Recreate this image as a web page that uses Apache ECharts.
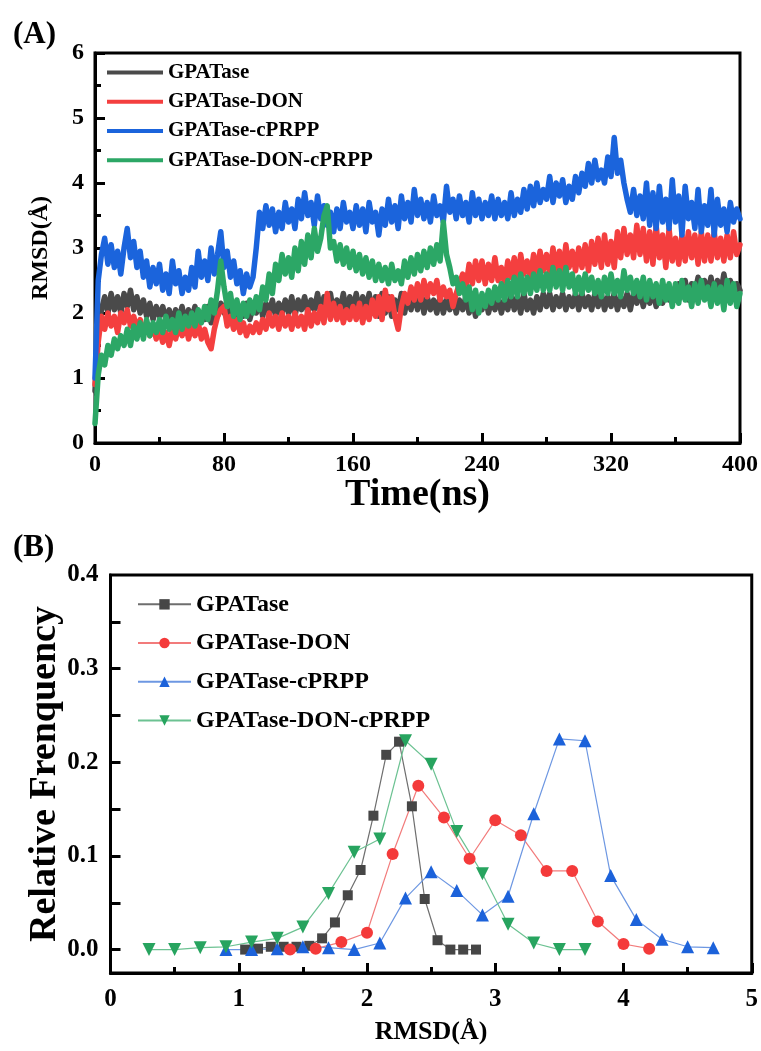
<!DOCTYPE html>
<html>
<head>
<meta charset="utf-8">
<title>RMSD</title>
<script src="https://cdn.jsdelivr.net/npm/echarts@6/dist/echarts.min.js"></script>
<style>
  html, body { margin: 0; padding: 0; background: #fff; }
  #chart { width: 761px; height: 1051px; }
</style>
</head>
<body>
<div id="chart"></div>
<script>
// ---- Panel A: RMSD trajectories, one sample every 2 ns from 0 to 400 ns ----
const seriesNames = ['GPATase', 'GPATase-DON', 'GPATase-cPRPP', 'GPATase-DON-cPRPP'];
const timeStepNs = 2;

const rmsdGPATase = [
  0.8, 1.75, 2.05, 2.25, 2.0, 2.3, 2.05, 2.25, 2.0, 2.3,
  2.1, 2.35, 2.05, 2.25, 2.0, 2.2, 1.95, 2.15, 1.9, 2.1,
  1.95, 2.1, 1.9, 2.05, 1.85, 2.05, 1.9, 2.1, 1.85, 2.05,
  1.9, 2.1, 1.85, 2.0, 1.9, 2.1, 1.85, 2.05, 1.95, 2.15,
  2.0, 2.2, 1.95, 2.15, 1.9, 2.1, 1.95, 2.15, 1.9, 2.1,
  2.0, 2.2, 1.95, 2.15, 2.0, 2.2, 1.95, 2.15, 2.0, 2.2,
  2.0, 2.25, 1.95, 2.2, 2.05, 2.25, 2.0, 2.2, 2.05, 2.3,
  2.0, 2.25, 2.05, 2.3, 2.0, 2.2, 2.05, 2.3, 2.0, 2.25,
  2.05, 2.3, 2.0, 2.25, 2.05, 2.3, 2.0, 2.25, 1.95, 2.3,
  2.0, 2.25, 1.95, 2.2, 2.05, 2.3, 2.0, 2.25, 2.05, 2.3,
  2.05, 2.3, 2.0, 2.25, 2.05, 2.2, 2.0, 2.25, 2.0, 2.2,
  2.05, 2.25, 2.0, 2.2, 2.05, 2.25, 2.0, 2.2, 1.95, 2.15,
  2.05, 2.25, 2.0, 2.2, 2.05, 2.25, 2.0, 2.2, 2.05, 2.3,
  2.05, 2.25, 2.0, 2.3, 2.05, 2.2, 2.0, 2.25, 2.05, 2.3,
  2.1, 2.3, 2.05, 2.25, 2.1, 2.3, 2.05, 2.25, 2.1, 2.3,
  2.05, 2.3, 2.1, 2.25, 2.05, 2.3, 2.1, 2.3, 2.05, 2.25,
  2.1, 2.3, 2.05, 2.25, 2.1, 2.3, 2.05, 2.3, 2.15, 2.35,
  2.1, 2.3, 2.15, 2.35, 2.1, 2.3, 2.15, 2.4, 2.2, 2.35,
  2.2, 2.45, 2.25, 2.5, 2.2, 2.45, 2.3, 2.55, 2.25, 2.5,
  2.3, 2.55, 2.25, 2.5, 2.3, 2.6, 2.3, 2.5, 2.25, 2.45,
  2.35
];

const rmsdDON = [
  0.9, 1.55, 1.95, 1.75, 2.0, 1.8, 1.95, 1.7, 2.0, 1.85,
  2.05, 1.8, 1.95, 1.75, 1.9, 1.7, 1.85, 1.65, 1.8, 1.6,
  1.75, 1.55, 1.7, 1.5, 1.75, 1.6, 1.8, 1.65, 1.85, 1.6,
  1.8, 1.65, 1.85, 1.6, 1.75, 1.55, 1.45, 1.75, 1.95, 2.05,
  2.1, 1.8, 1.95, 1.75, 1.9, 1.7, 1.85, 1.65, 1.8, 1.7,
  1.85, 1.7, 1.9, 1.75, 2.0, 1.8, 1.95, 1.75, 2.0, 1.8,
  1.95, 1.75, 2.0, 1.8, 1.95, 1.75, 2.05, 1.8, 2.0, 1.85,
  2.1, 1.85, 2.3, 1.9, 2.15, 1.9, 2.1, 1.85, 2.05, 1.9,
  2.1, 1.9, 2.15, 1.85, 2.1, 1.9, 2.2, 1.95, 2.25, 1.9,
  2.35, 2.05, 2.25, 1.95, 1.75, 2.1, 2.3, 2.15, 2.4, 2.2,
  2.45, 2.2, 2.5, 2.25, 2.45, 2.3, 2.5, 2.2, 2.4, 2.25,
  2.35, 2.1, 2.3, 2.45, 2.6, 2.4, 2.75, 2.45, 2.8, 2.5,
  2.8, 2.45, 2.75, 2.5, 2.85, 2.5, 2.7, 2.45, 2.8, 2.55,
  2.85, 2.5, 2.9, 2.6, 2.8, 2.55, 2.9, 2.6, 2.95, 2.65,
  2.9, 2.6, 3.0, 2.65, 2.95, 2.6, 3.05, 2.7, 2.95, 2.65,
  3.0, 2.7, 3.05, 2.65, 3.1, 2.75, 3.15, 2.7, 3.2, 2.75,
  3.1, 2.7, 3.25, 2.85, 3.3, 2.9, 3.2, 2.85, 3.35, 2.9,
  3.3, 2.8, 3.25, 2.75, 3.35, 2.85, 3.2, 2.7, 3.3, 2.8,
  3.15, 2.75, 3.2, 2.8, 3.25, 2.85, 3.2, 2.75, 3.25, 2.8,
  3.2, 2.8, 3.25, 2.85, 3.15, 2.8, 3.2, 2.85, 3.25, 2.9,
  3.05
];

const rmsdCPRPP = [
  1.0, 2.5, 2.9, 3.15, 2.75, 3.05, 2.7, 2.95, 2.6, 3.0,
  3.3, 2.85, 3.1, 2.7, 2.95, 2.55, 2.8, 2.4, 2.7, 2.45,
  2.75, 2.35, 2.6, 2.3, 2.8, 2.45, 2.65, 2.3, 2.55, 2.35,
  2.7, 2.4, 2.95, 2.55, 2.8, 2.5, 3.0, 2.6, 2.9, 3.25,
  2.7, 2.95, 2.55, 2.8, 2.45, 2.65, 2.3, 2.6, 2.4, 2.55,
  3.0, 3.55, 3.3, 3.65, 3.35, 3.6, 3.25, 3.55, 3.3, 3.7,
  3.4, 3.6, 3.3, 3.75, 3.45, 3.85, 3.5, 3.7, 3.35, 3.8,
  3.45, 3.65, 3.35, 3.55, 3.25, 3.6, 3.3, 3.7, 3.4, 3.55,
  3.3, 3.65, 3.35, 3.6, 3.25, 3.7, 3.4, 3.55, 3.2, 3.6,
  3.35, 3.75, 3.4, 3.65, 3.3, 3.8, 3.45, 3.7, 3.4, 3.9,
  3.5, 3.75, 3.45, 3.7, 3.4, 3.8, 3.5, 3.65, 3.4, 3.95,
  3.55, 3.75, 3.45, 3.8, 3.5, 3.7, 3.4, 3.85, 3.5, 3.75,
  3.45, 3.7, 3.5, 3.8, 3.45, 3.75, 3.5, 3.7, 3.45, 3.85,
  3.5, 3.75, 3.55, 3.9, 3.6, 3.95, 3.65, 4.0, 3.7, 3.9,
  3.75, 4.1, 3.7, 4.0, 3.8, 4.05, 3.7, 3.95, 3.75, 4.1,
  3.85, 4.15, 3.95, 4.3, 4.0, 4.35, 4.05, 4.2, 4.0, 4.4,
  4.1, 4.7, 4.15, 4.35, 4.0, 3.75, 3.55, 3.9, 3.5, 3.8,
  3.45, 4.0, 3.35, 3.85, 3.3, 3.95, 3.4, 3.75, 3.3, 4.05,
  3.4, 3.8, 3.2, 3.95, 3.45, 3.7, 3.3, 3.9, 3.25, 3.65,
  3.35, 3.9, 3.2, 3.75, 3.35, 3.6, 3.25, 3.7, 3.4, 3.6,
  3.45
];

const rmsdDONcPRPP = [
  0.3, 1.05, 1.35, 1.2, 1.5, 1.35, 1.6, 1.45, 1.65, 1.5,
  1.75, 1.5, 1.8, 1.6, 1.85, 1.6, 1.9, 1.65, 1.85, 1.7,
  1.9, 1.7, 1.95, 1.75, 1.9, 1.7, 2.0, 1.75, 1.95, 1.8,
  2.0, 1.8, 2.05, 1.85, 2.1, 1.9, 2.2, 2.0, 2.35, 2.8,
  2.4, 2.1, 2.3, 1.95, 2.2, 1.9, 2.15, 1.95, 2.2, 2.0,
  2.25, 2.05, 2.4, 2.2, 2.6, 2.3, 2.75, 2.5, 2.9, 2.6,
  2.85, 2.55, 3.0, 2.65, 3.1, 2.75, 3.2, 2.85, 3.3, 2.95,
  3.15, 3.5, 3.65, 3.0, 3.1, 2.8, 3.05, 2.75, 3.0, 2.7,
  2.95, 2.65, 2.9, 2.6, 2.85, 2.55, 2.8, 2.5, 2.75, 2.5,
  2.7, 2.45, 2.75, 2.5, 2.65, 2.45, 2.8, 2.55, 2.85, 2.6,
  2.9, 2.65, 2.95, 2.7, 3.0, 2.75, 3.05, 2.8, 3.4, 2.9,
  2.7, 2.45, 2.55, 2.3, 2.45, 2.2, 2.4, 2.05, 2.35, 2.0,
  2.3, 2.1, 2.35, 2.15, 2.4, 2.2, 2.45, 2.2, 2.5, 2.25,
  2.55, 2.25, 2.6, 2.3, 2.55, 2.3, 2.6, 2.35, 2.65, 2.35,
  2.6, 2.35, 2.7, 2.4, 2.65, 2.35, 2.7, 2.4, 2.6, 2.3,
  2.55, 2.3, 2.6, 2.35, 2.55, 2.3, 2.5, 2.25, 2.55, 2.3,
  2.6, 2.3, 2.5, 2.25, 2.65, 2.35, 2.55, 2.3, 2.5, 2.25,
  2.55, 2.2, 2.5, 2.25, 2.45, 2.15, 2.5, 2.2, 2.45, 2.1,
  2.45, 2.15, 2.5, 2.2, 2.4, 2.1, 2.45, 2.15, 2.5, 2.2,
  2.4, 2.1, 2.45, 2.15, 2.4, 2.05, 2.5, 2.15, 2.45, 2.1,
  2.3
];

// ---- Panel B: RMSD distributions (bin centre in Å, relative frequency) ----
const binsGPATase = [1.05, 1.15, 1.25, 1.35, 1.45, 1.55, 1.65, 1.75, 1.85, 1.95,
                     2.05, 2.15, 2.25, 2.35, 2.45, 2.55, 2.65, 2.75, 2.85];
const freqGPATase = [0.000, 0.001, 0.003, 0.003, 0.003, 0.004, 0.012, 0.029, 0.058, 0.085,
                     0.143, 0.208, 0.222, 0.153, 0.054, 0.010, 0.000, 0.000, 0.000];

const binsDON = [1.4, 1.6, 1.8, 2.0, 2.2, 2.4, 2.6, 2.8, 3.0, 3.2, 3.4, 3.6, 3.8, 4.0, 4.2];
const freqDON = [0.000, 0.001, 0.008, 0.018, 0.102, 0.175, 0.141, 0.097, 0.138, 0.122,
                 0.084, 0.084, 0.030, 0.006, 0.001];

const binsCPRPP = [0.9, 1.1, 1.3, 1.5, 1.7, 1.9, 2.1, 2.3, 2.5, 2.7,
                   2.9, 3.1, 3.3, 3.5, 3.7, 3.9, 4.1, 4.3, 4.5, 4.7];
const freqCPRPP = [0.000, 0.000, 0.001, 0.003, 0.002, 0.000, 0.007, 0.055, 0.083, 0.063,
                   0.037, 0.057, 0.145, 0.225, 0.223, 0.079, 0.032, 0.011, 0.003, 0.002];

const binsDONcPRPP = [0.3, 0.5, 0.7, 0.9, 1.1, 1.3, 1.5, 1.7, 1.9, 2.1,
                      2.3, 2.5, 2.7, 2.9, 3.1, 3.3, 3.5, 3.7];
const freqDONcPRPP = [0.000, 0.000, 0.002, 0.003, 0.008, 0.012, 0.024, 0.060, 0.104, 0.118,
                      0.223, 0.198, 0.126, 0.081, 0.027, 0.007, 0.000, 0.000];

// Axis tick values
const timeTicks = [0, 80, 160, 240, 320, 400];
const rmsdTicksA = [0, 1, 2, 3, 4, 5, 6];
const rmsdTicksB = [0, 1, 2, 3, 4, 5];
const freqTicks = [0.0, 0.1, 0.2, 0.3, 0.4];

// ---- styling ----
const FONT = "'Liberation Serif', 'Times New Roman', serif";
const lineColors = ['#4a4a4a', '#f43f3f', '#1b64dc', '#2ca766'];
const markerColors = ['#464646', '#f43a3a', '#1c62da', '#27a45f'];
const thinLineColors = ['#6e6e6e', '#f27b7b', '#6d97e2', '#6cc292'];
const markerShapes = ['rect', 'circle', 'triangle', 'triangle'];
const markerSizes = [10, 12, 13, 13];
const markerRotate = [0, 0, 0, 180];
const NBSP = '\u00a0'; // keeps panel B legend entries separate from panel A

function timePairs(values) {
  return values.map((v, i) => [i * timeStepNs, v]);
}
function binPairs(bins, freqs) {
  return bins.map((b, i) => [b, freqs[i]]);
}

function axisCommon(extra) {
  return Object.assign({
    type: 'value',
    nameMoveOverlap: false,
    axisLine: { show: true, onZero: false, lineStyle: { color: '#000', width: 3 } },
    axisTick: { show: true, inside: true, length: 10, lineStyle: { color: '#000', width: 3 } },
    minorTick: { show: true, splitNumber: 2, length: 6, lineStyle: { color: '#000', width: 3 } },
    splitLine: { show: false },
    minorSplitLine: { show: false },
    axisLabel: { color: '#000', fontFamily: FONT, fontWeight: 'bold', fontSize: 24 },
    nameLocation: 'middle',
    nameTextStyle: { color: '#000', fontFamily: FONT, fontWeight: 'bold' }
  }, extra);
}

const trajData = [rmsdGPATase, rmsdDON, rmsdCPRPP, rmsdDONcPRPP];
const distData = [
  binPairs(binsGPATase, freqGPATase),
  binPairs(binsDON, freqDON),
  binPairs(binsCPRPP, freqCPRPP),
  binPairs(binsDONcPRPP, freqDONcPRPP)
];

const series = [];
seriesNames.forEach((name, i) => {
  series.push({
    type: 'line', name: name, xAxisIndex: 0, yAxisIndex: 0,
    data: timePairs(trajData[i]),
    symbol: 'none', showSymbol: false,
    lineStyle: { color: lineColors[i], width: 5.5, join: 'round', cap: 'round' },
    itemStyle: { color: lineColors[i] },
    silent: true, clip: true
  });
});
seriesNames.forEach((name, i) => {
  series.push({
    type: 'line', name: name + NBSP, xAxisIndex: 1, yAxisIndex: 1,
    data: distData[i],
    symbol: markerShapes[i], symbolSize: markerSizes[i], symbolRotate: markerRotate[i],
    showSymbol: true,
    lineStyle: { color: thinLineColors[i], width: 1.2 },
    itemStyle: { color: markerColors[i], opacity: 1 },
    silent: true, clip: false, z: 3
  });
});

const option = {
  backgroundColor: '#fff',
  animation: false,
  title: [
    { text: '(A)', left: 8, top: 14, textStyle: { fontFamily: FONT, fontWeight: 'bold', fontSize: 31, color: '#000' } },
    { text: '(B)', left: 8, top: 527, textStyle: { fontFamily: FONT, fontWeight: 'bold', fontSize: 31, color: '#000' } }
  ],
  grid: [
    { left: 95, top: 53, width: 645, height: 390, show: true, borderColor: '#000', borderWidth: 3, backgroundColor: 'transparent' },
    { left: 110.5, top: 575, width: 643, height: 398, show: true, borderColor: '#000', borderWidth: 3, backgroundColor: 'transparent' }
  ],
  legend: [
    {
      data: seriesNames, left: 107, top: 58, orient: 'vertical', padding: 0, itemGap: 0,
      itemWidth: 56, itemHeight: 4, icon: 'rect',
      textStyle: { fontFamily: FONT, fontWeight: 'bold', fontSize: 21, color: '#000', lineHeight: 29.2 },
      selectedMode: false
    },
    {
      data: seriesNames.map(n => n + NBSP), left: 137, top: 585, orient: 'vertical', padding: 0, itemGap: 0,
      itemWidth: 53, itemHeight: 13,
      formatter: n => n.trim(),
      textStyle: { fontFamily: FONT, fontWeight: 'bold', fontSize: 24, color: '#000', lineHeight: 38.7 },
      selectedMode: false
    }
  ],
  xAxis: [
    axisCommon({
      gridIndex: 0, min: timeTicks[0], max: timeTicks[timeTicks.length - 1], interval: timeTicks[1] - timeTicks[0],
      name: 'Time(ns)', nameGap: 33,
      nameTextStyle: { color: '#000', fontFamily: FONT, fontWeight: 'bold', fontSize: 38 },
      axisLabel: { color: '#000', fontFamily: FONT, fontWeight: 'bold', fontSize: 24, margin: 10 }
    }),
    axisCommon({
      gridIndex: 1, min: rmsdTicksB[0], max: rmsdTicksB[rmsdTicksB.length - 1], interval: 1,
      name: 'RMSD(Å)', nameGap: 46,
      nameTextStyle: { color: '#000', fontFamily: FONT, fontWeight: 'bold', fontSize: 26 },
      axisLabel: { color: '#000', fontFamily: FONT, fontWeight: 'bold', fontSize: 25, margin: 14 }
    })
  ],
  yAxis: [
    axisCommon({
      gridIndex: 0, min: rmsdTicksA[0], max: rmsdTicksA[rmsdTicksA.length - 1], interval: 1,
      name: 'RMSD(Å)', nameGap: 42,
      nameTextStyle: { color: '#000', fontFamily: FONT, fontWeight: 'bold', fontSize: 24 },
      axisLabel: { color: '#000', fontFamily: FONT, fontWeight: 'bold', fontSize: 24, margin: 11 }
    }),
    axisCommon({
      gridIndex: 1, min: -0.025, max: freqTicks[freqTicks.length - 1],
      // ticks at 0.0 … 0.4 even though the axis starts slightly below zero
      interval: 0.1,
      customValues: freqTicks,
      axisTick: { show: true, inside: true, length: 10, lineStyle: { color: '#000', width: 3 }, customValues: [0, 0.05, 0.1, 0.15, 0.2, 0.25, 0.3, 0.35] },
      minorTick: { show: false },
      axisLabel: {
        color: '#000', fontFamily: FONT, fontWeight: 'bold', fontSize: 25, margin: 12,
        customValues: freqTicks,
        formatter: v => v.toFixed(1)
      },
      name: 'Relative Frenquency', nameGap: 46,
      nameTextStyle: { color: '#000', fontFamily: FONT, fontWeight: 'bold', fontSize: 38 }
    })
  ],
  series: series
};

const chart = echarts.init(document.getElementById('chart'), null, { renderer: 'canvas', width: 761, height: 1051 });
chart.setOption(option);
</script>
</body>
</html>
